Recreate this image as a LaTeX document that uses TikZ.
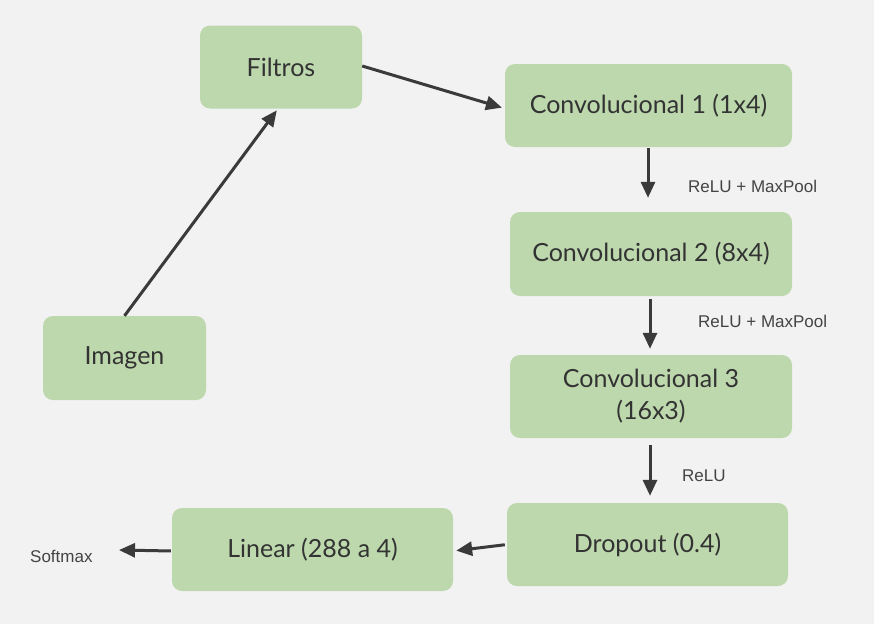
\documentclass[tikz,border=0pt]{standalone}
\usepackage{fontspec}
\setmainfont{Lato}
\newfontfamily\labfont{Liberation Sans}
\usetikzlibrary{arrows.meta}
\definecolor{bg}{HTML}{F2F2F2}
\definecolor{boxgreen}{HTML}{BDD8AD}
\definecolor{txt}{HTML}{333333}
\definecolor{arr}{HTML}{3A3A3A}
\definecolor{lab}{HTML}{444444}
\tikzset{
  blk/.style={draw=none, fill=boxgreen, rounded corners=10pt, text=txt,
    font=\fontsize{25}{30}\selectfont, align=center, inner sep=0pt},
  conn/.style={draw=arr, line width=3pt, -{Triangle[length=16pt,width=14pt]}},
  lbl/.style={font=\labfont\fontsize{17}{20}\selectfont, text=lab, anchor=west, inner sep=0pt}
}
\begin{document}
\begin{tikzpicture}[x=1pt,y=-1pt]
\fill[bg] (0,0) rectangle (874,624);
\useasboundingbox (0,0) rectangle (874,624);
\node[blk, minimum width=162pt, minimum height=83pt] (filtros) at (281,67) {Filtros};
\node[blk, minimum width=287pt, minimum height=83pt] (c1) at (648.5,105.5) {Convolucional 1 (1x4)};
\node[blk, minimum width=282pt, minimum height=84pt] (c2) at (651,254) {Convolucional 2 (8x4)};
\node[blk, minimum width=282pt, minimum height=83pt] (c3) at (651,396.5) {Convolucional 3\\[2pt](16x3)};
\node[blk, minimum width=281pt, minimum height=83pt] (drop) at (647.5,544.5) {Dropout (0.4)};
\node[blk, minimum width=281pt, minimum height=83pt] (lin) at (312.5,549.5) {Linear (288 a 4)};
\node[blk, minimum width=163pt, minimum height=84pt] (img) at (124.5,358) {Imagen};
\node[lbl] (l1) at (688,186) {ReLU + MaxPool};
\node[lbl] (l2) at (698,321) {ReLU + MaxPool};
\node[lbl] (l3) at (682,476) {ReLU};
\node[lbl] (soft) at (30,556) {Softmax};
\coordinate (softtip) at (119,550);
\draw[conn, shorten >=2pt] (img.north) -- ([xshift=-3pt]filtros.south);
\draw[conn, shorten >=3pt] ([yshift=1pt]filtros.east) -- ([yshift=-3pt]c1.west);
\draw[conn, shorten >=14pt, shorten <=1pt] ([xshift=-0.5pt]c1.south) -- ([xshift=-3pt]c2.north);
\draw[conn, shorten >=6pt, shorten <=3pt] ([xshift=-1pt]c2.south) -- ([xshift=-1pt]c3.north);
\draw[conn, shorten >=7pt, shorten <=7pt] ([xshift=-1pt]c3.south) -- ([xshift=2.5pt]drop.north);
\draw[conn, shorten >=3pt, shorten <=2pt] (drop.west) -- ([yshift=-1.5pt]lin.east);
\draw[conn, shorten <=1pt] ([yshift=-1.5pt]lin.west) -- (softtip);
\end{tikzpicture}
\end{document}
